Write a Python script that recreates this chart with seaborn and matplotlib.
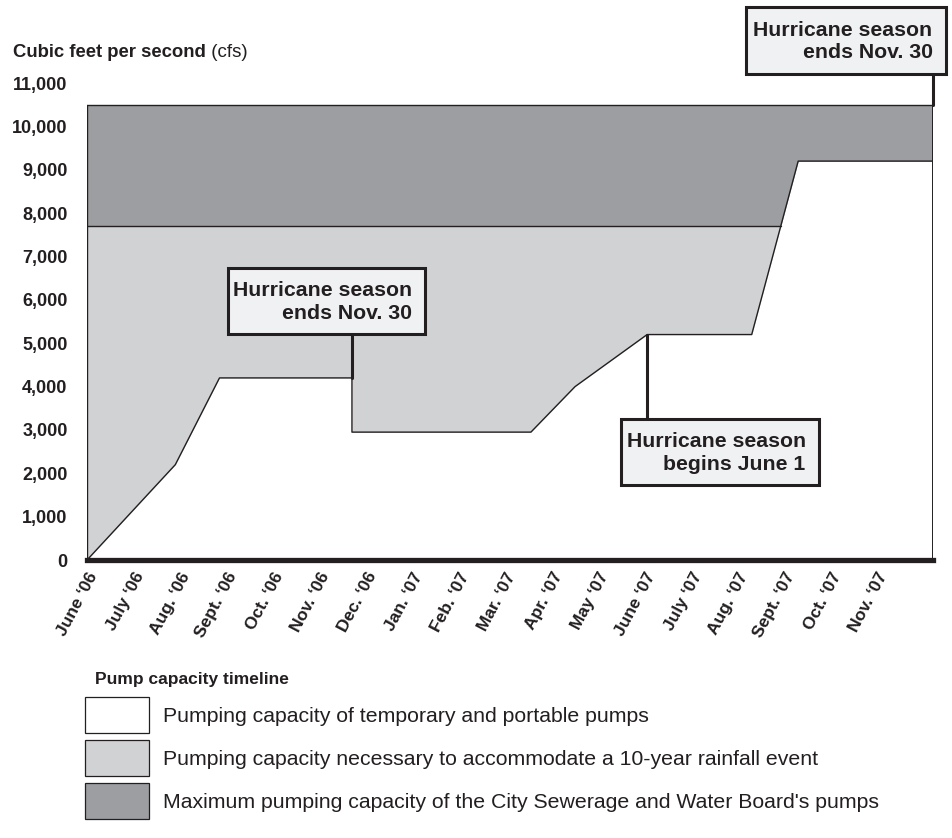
import numpy as np
import matplotlib.pyplot as plt
import seaborn as sns
from matplotlib.patches import Patch, Rectangle

# month index: 0 = June '06
month_labels = ["June \u201806", "July \u201806", "Aug. \u201806", "Sept. \u201806",
                "Oct. \u201806", "Nov. \u201806", "Dec. \u201806", "Jan. \u201807",
                "Feb. \u201807", "Mar. \u201807", "Apr. \u201807", "May \u201807",
                "June \u201807", "July \u201807", "Aug. \u201807", "Sept. \u201807",
                "Oct. \u201807", "Nov. \u201807"]

# temporary and portable pumps (cfs)
temp_month = [0, 1.9, 2.85, 5.7, 5.7, 9.55, 10.5, 12.05, 14.3, 15.3, 18.2]
temp_cfs = [0, 2200, 4200, 4200, 2950, 2950, 4000, 5200, 5200, 9200, 9200]

rainfall_cfs = 7700   # needed for a 10-year rainfall event
board_cfs = 10500     # max of Sewerage and Water Board pumps

legend_labels = ["Pumping capacity of temporary and portable pumps",
                 "Pumping capacity necessary to accommodate a 10-year rainfall event",
                 "Maximum pumping capacity of the City Sewerage and Water Board's pumps"]

INK = "#231f20"
DARK = "#9d9ea2"
LIGHT = "#d1d2d4"
BOXFILL = "#f0f1f3"

sns.set_theme(style="white")
plt.rcParams["font.family"] = ["Liberation Sans", "DejaVu Sans"]
plt.rcParams["text.color"] = INK

fig = plt.figure(figsize=(9.53, 8.38), dpi=100)
ax = fig.add_axes([0.0913, 0.3317, 0.8877, 0.5692])

end = temp_month[-1]
ax.fill_between([0, end], 0, board_cfs, color=DARK, lw=0, zorder=1)
ax.fill_between([0, end], 0, rainfall_cfs, color=LIGHT, lw=0, zorder=1)
ax.fill_between(temp_month, 0, temp_cfs, color="white", lw=0, zorder=1)

# outlines
line_kw = dict(color=INK, linewidth=1.0, estimator=None, sort=False, zorder=3, ax=ax)
sns.lineplot(x=temp_month, y=temp_cfs, **line_kw)
cross = np.interp(rainfall_cfs, temp_cfs[8:10], temp_month[8:10])
sns.lineplot(x=[0, cross], y=[rainfall_cfs, rainfall_cfs], **line_kw)
sns.lineplot(x=[0, end], y=[board_cfs, board_cfs], **line_kw)
sns.lineplot(x=[0, 0], y=[0, board_cfs], **line_kw)
ax.plot([end, end], [0, board_cfs], color=INK, lw=1.4, zorder=3)


def callout(x0, x1, y0, y1, text, px, py):
    ax.add_patch(Rectangle((x0, y0), x1 - x0, y1 - y0, facecolor=BOXFILL,
                           edgecolor=INK, lw=2.2, clip_on=False, zorder=6))
    ax.text(x1 - 0.28, (y0 + y1) / 2 - 30, text, ha="right", va="center",
            multialignment="right", fontsize=15.3, fontweight="bold",
            linespacing=1.22, zorder=7, clip_on=False)
    ybox = y0 if py < y0 else y1
    ax.plot([px, px], [py, ybox], color=INK, lw=2.2, zorder=4, clip_on=False)


callout(3.03, 7.27, 5220, 6740, "Hurricane season\nends Nov. 30", 5.7, 4200)
callout(11.48, 15.74, 1730, 3260, "Hurricane season\nbegins June 1", 12.05, 5200)
callout(14.17, 18.47, 11220, 12750, "Hurricane season\nends Nov. 30", end, board_cfs)

ax.set_xlim(0, end)
ax.set_ylim(0, 11000)
yt = list(range(0, 11001, 1000))
ax.set_yticks(yt)
ax.set_yticklabels([f"{v:,}" for v in yt], fontsize=13, fontweight="bold")
ax.set_xticks(range(len(month_labels)))
ax.set_xticklabels(month_labels, fontsize=12.5, fontweight="bold")
plt.setp(ax.get_xticklabels(), rotation=62, ha="right", va="top",
         rotation_mode="anchor")
ax.tick_params(axis="y", length=0, pad=14, colors=INK)
ax.tick_params(axis="x", length=0, pad=7, colors=INK)
ax.set_xlabel("")
ax.set_ylabel("")

for side in ["top", "left", "right"]:
    ax.spines[side].set_visible(False)
ax.spines["bottom"].set_linewidth(3.8)
ax.spines["bottom"].set_color(INK)
ax.spines["bottom"].set_zorder(5)

# y-axis title
t1 = fig.text(13 / 953, 1 - 57 / 838, "Cubic feet per second", fontsize=13.3,
              fontweight="bold", va="baseline", ha="left")
ax.annotate(" (cfs)", xy=(1, 0), xycoords=t1, va="bottom", ha="left",
            fontsize=13.5, annotation_clip=False)

# legend
fig.text(95 / 953, 1 - 684 / 838, "Pump capacity timeline", fontsize=12.5,
         fontweight="bold", va="baseline", ha="left")
handles = [Patch(facecolor=c, edgecolor=INK, lw=0.9) for c in ["white", LIGHT, DARK]]
fig.legend(handles, legend_labels, loc="upper left",
           bbox_to_anchor=(85 / 953, 1 - 697 / 838), frameon=False,
           fontsize=15.3, handlelength=3.0, handleheight=2.23,
           labelspacing=0.33, handletextpad=0.66, borderpad=0,
           borderaxespad=0)

fig.savefig("out.png", dpi=100)
